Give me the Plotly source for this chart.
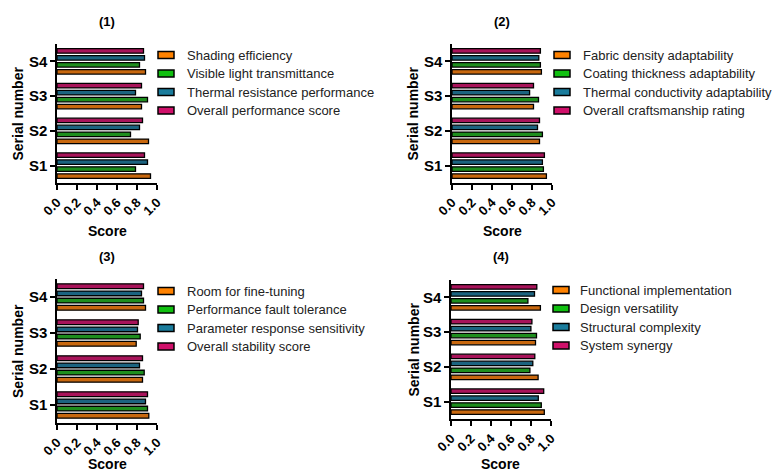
import plotly.graph_objects as go

categories = ["S1", "S2", "S3", "S4"]

titles = ["(1)", "(2)", "(3)", "(4)"]

series_names = [
    ["Shading efficiency", "Visible light transmittance", "Thermal resistance performance", "Overall performance score"],
    ["Fabric density adaptability", "Coating thickness adaptability", "Thermal conductivity adaptability", "Overall craftsmanship rating"],
    ["Room for fine-tuning", "Performance fault tolerance", "Parameter response sensitivity", "Overall stability score"],
    ["Functional implementation", "Design versatility", "Structural complexity", "System synergy"],
]

# values per panel: [series][category S1..S4]
panel1 = [
    [0.935, 0.915, 0.845, 0.885],
    [0.785, 0.735, 0.905, 0.825],
    [0.905, 0.825, 0.785, 0.875],
    [0.875, 0.855, 0.845, 0.865],
]
panel2 = [
    [0.944, 0.875, 0.815, 0.894],
    [0.914, 0.904, 0.865, 0.884],
    [0.904, 0.855, 0.776, 0.868],
    [0.924, 0.875, 0.815, 0.884],
]
panel3 = [
    [0.918, 0.855, 0.792, 0.885],
    [0.905, 0.872, 0.832, 0.865],
    [0.885, 0.825, 0.805, 0.845],
    [0.905, 0.855, 0.812, 0.865],
]
panel4 = [
    [0.933, 0.871, 0.845, 0.894],
    [0.903, 0.789, 0.855, 0.769],
    [0.873, 0.818, 0.799, 0.835],
    [0.927, 0.838, 0.809, 0.858],
]
panels = [panel1, panel2, panel3, panel4]

legend_colors = ["#FF8200", "#10C010", "#1A7C9C", "#D0106A"]
bar_colors = ["#C8680F", "#1E8E1E", "#1C6480", "#A8145A"]
x_ticks = [0.0, 0.2, 0.4, 0.6, 0.8, 1.0]
x_tick_text = ["0.0", "0.2", "0.4", "0.6", "0.8", "1.0"]

W, H = 783, 475
# pixel boxes: (left, right, top, bottom)
boxes = [(57, 157, 44, 183), (452, 552, 44, 183), (57, 157, 279, 423), (451, 551, 280, 419)]
legend_pos = [(158, 185, 55), (554, 581, 55), (158, 185, 291), (553, 578, 290)]
ylabel_x = [18, 413, 18, 413]
xtitle_y = [231, 231, 464, 464]
title_y = [21, 21, 256, 256]

FONT = "Arial, Liberation Sans, sans-serif"

fig = go.Figure()
layout = dict(
    width=W, height=H, margin=dict(l=0, r=0, t=0, b=0, autoexpand=False),
    plot_bgcolor="white", paper_bgcolor="white",
    barmode="group", bargap=0.2, bargroupgap=0.35,
    showlegend=False, font=dict(family=FONT, color="black"),
)
shapes = []
annotations = []

for p in range(4):
    l, r, t, b = boxes[p]
    xa = "x" if p == 0 else f"x{p+1}"
    ya = "y" if p == 0 else f"y{p+1}"
    for s in range(4):
        fig.add_trace(go.Bar(
            y=categories, x=panels[p][s], orientation="h",
            name=series_names[p][s], xaxis=xa, yaxis=ya,
            marker=dict(color=bar_colors[s], line=dict(color="black", width=1.3)),
        ))
    xkey = "xaxis" if p == 0 else f"xaxis{p+1}"
    ykey = "yaxis" if p == 0 else f"yaxis{p+1}"
    layout[xkey] = dict(
        domain=[l / W, r / W], anchor=ya, range=[0, 1], automargin=False,
        tickvals=x_ticks, ticktext=x_tick_text, tickangle=-45,
        showline=True, linecolor="black", linewidth=1.5,
        ticks="outside", ticklen=5, tickwidth=1.5, tickcolor="black",
        showgrid=False, zeroline=False,
        tickfont=dict(family=FONT, size=13, color="black", weight="bold"),
    )
    layout[ykey] = dict(
        domain=[1 - b / H, 1 - t / H], anchor=xa, range=[-0.5, 3.5], automargin=False,
        type="category", categoryorder="array", categoryarray=categories,
        showline=True, linecolor="black", linewidth=1.5,
        ticks="outside", ticklen=5, tickwidth=1.5, tickcolor="black",
        showgrid=False, zeroline=False,
        tickfont=dict(family=FONT, size=15, color="black", weight="bold"),
    )
    # panel title
    annotations.append(dict(
        text=f"<b>{titles[p]}</b>", x=(l + r) / 2 / W, y=1 - title_y[p] / H,
        xref="paper", yref="paper", showarrow=False,
        font=dict(family=FONT, size=13), xanchor="center", yanchor="middle"))
    # x title
    annotations.append(dict(
        text="<b>Score</b>", x=(l + r) / 2 / W, y=1 - xtitle_y[p] / H,
        xref="paper", yref="paper", showarrow=False,
        font=dict(family=FONT, size=14), xanchor="center", yanchor="middle"))
    # y title
    annotations.append(dict(
        text="<b>Serial number</b>", x=ylabel_x[p] / W, y=1 - (t + b) / 2 / H,
        xref="paper", yref="paper", showarrow=False, textangle=-90,
        font=dict(family=FONT, size=14), xanchor="center", yanchor="middle"))
    # legend
    sx, tx, ty = legend_pos[p]
    for s in range(4):
        yy = ty + s * 18.5
        shapes.append(dict(
            type="rect", xref="paper", yref="paper",
            x0=sx / W, x1=(sx + 16) / W, y0=1 - (yy + 3.5) / H, y1=1 - (yy - 3.5) / H,
            fillcolor=legend_colors[s], line=dict(color="black", width=1.5)))
        annotations.append(dict(
            text=series_names[p][s], x=tx / W, y=1 - yy / H,
            xref="paper", yref="paper", showarrow=False,
            font=dict(family=FONT, size=13, color="#222"), xanchor="left", yanchor="middle"))

layout["shapes"] = shapes
layout["annotations"] = annotations
fig.update_layout(**layout)
fig.write_html("out.html")
